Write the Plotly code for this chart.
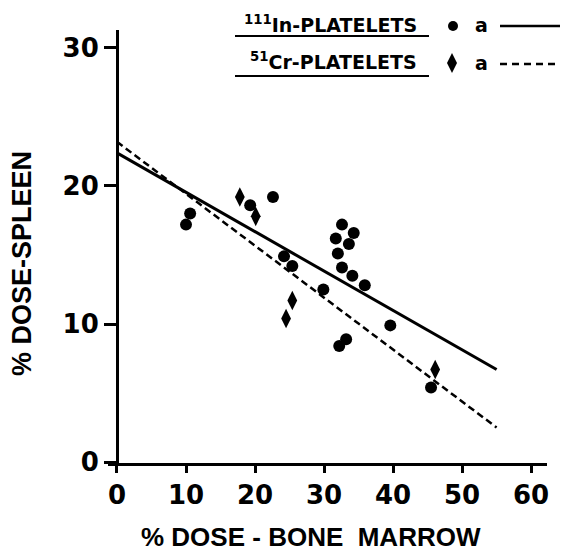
import plotly.graph_objects as go

# --- data ---
in_x = [10.0, 10.6, 19.3, 22.6, 24.2, 25.4, 32.6, 34.3, 31.7, 33.6, 32.0, 32.6, 34.1, 35.9, 29.9, 39.6, 33.2, 32.2, 45.5]
in_y = [17.2, 18.0, 18.6, 19.2, 14.9, 14.2, 17.2, 16.6, 16.2, 15.8, 15.1, 14.1, 13.5, 12.8, 12.5, 9.9, 8.9, 8.4, 5.4]
cr_x = [17.8, 20.1, 25.4, 24.5, 46.1]
cr_y = [19.2, 17.8, 11.7, 10.4, 6.7]
fit_x = [0, 55]
in_fit_y = [22.4, 6.7]
cr_fit_y = [23.2, 2.5]
x_ticks = [0, 10, 20, 30, 40, 50, 60]
y_ticks = [0, 10, 20, 30]

FONT = "DejaVu Sans"
TITLE_FONT = "Liberation Sans"
W, H = 564, 554
L, R, T, B = 108, 17, 30, 91
PW, PH = W - L - R, H - T - B


def px(x):
    return (x - L) / PW


def py(y):
    return (H - B - y) / PH


fig = go.Figure()
fig.add_trace(go.Scatter(x=fit_x, y=in_fit_y, mode="lines",
                         line=dict(color="black", width=3), showlegend=False))
fig.add_trace(go.Scatter(x=fit_x, y=cr_fit_y, mode="lines",
                         line=dict(color="black", width=2.5, dash="7px,4px"), showlegend=False))
fig.add_trace(go.Scatter(x=in_x, y=in_y, mode="markers",
                         marker=dict(symbol="circle", size=12, color="black"), showlegend=False))
fig.add_trace(go.Scatter(x=cr_x, y=cr_y, mode="markers",
                         marker=dict(symbol="diamond-tall", size=14, color="black"), showlegend=False))

shapes = []
# legend underlines
for yy in (36, 76):
    shapes.append(dict(type="line", xref="paper", yref="paper", x0=px(235), x1=px(429),
                       y0=py(yy), y1=py(yy), line=dict(color="black", width=2)))
# legend circle
shapes.append(dict(type="circle", xref="paper", yref="paper", xsizemode="pixel", ysizemode="pixel",
                   xanchor=px(453), yanchor=py(26), x0=-5, x1=5, y0=-5, y1=5,
                   fillcolor="black", line=dict(color="black", width=0)))
# legend diamond
shapes.append(dict(type="path", xref="paper", yref="paper", xsizemode="pixel", ysizemode="pixel",
                   xanchor=px(452), yanchor=py(63), path="M 0,10 L 5,0 L 0,-10 L -5,0 Z",
                   fillcolor="black", line=dict(color="black", width=0)))
# legend lines
shapes.append(dict(type="line", xref="paper", yref="paper", x0=px(500), x1=px(560),
                   y0=py(26), y1=py(26), line=dict(color="black", width=2.5)))
shapes.append(dict(type="line", xref="paper", yref="paper", x0=px(500), x1=px(560),
                   y0=py(64), y1=py(64), line=dict(color="black", width=2.5, dash="7px,5px")))

ann_font = dict(family=FONT, size=19, color="black", weight="bold")
annotations = [
    dict(text="<sup>111</sup>In-PLATELETS", xref="paper", yref="paper", x=px(419), y=py(24),
         xanchor="right", yanchor="middle", showarrow=False, font=ann_font),
    dict(text="<sup>51</sup>Cr-PLATELETS", xref="paper", yref="paper", x=px(419), y=py(61),
         xanchor="right", yanchor="middle", showarrow=False, font=ann_font),
    dict(text="a", xref="paper", yref="paper", x=px(481), y=py(25),
         xanchor="center", yanchor="middle", showarrow=False, font=ann_font),
    dict(text="a", xref="paper", yref="paper", x=px(481), y=py(63),
         xanchor="center", yanchor="middle", showarrow=False, font=ann_font),
    dict(text="% DOSE - BONE  MARROW", xref="paper", yref="paper", x=px(311), y=py(537),
         xanchor="center", yanchor="middle", showarrow=False,
         font=dict(family=TITLE_FONT, size=26, color="black", weight="bold")),
    dict(text="% DOSE-SPLEEN", xref="paper", yref="paper", x=px(22), y=py(264),
         xanchor="center", yanchor="middle", showarrow=False, textangle=-90,
         font=dict(family=TITLE_FONT, size=27, color="black", weight="bold")),
]

tick_font = dict(family=FONT, size=26, color="black", weight="bold")
fig.update_layout(
    width=W, height=H,
    margin=dict(l=L, r=R, t=T, b=B),
    paper_bgcolor="white", plot_bgcolor="white",
    shapes=shapes, annotations=annotations,
    xaxis=dict(range=[-1.3, 62.3], tickvals=x_ticks, ticktext=[str(v) for v in x_ticks],
               showline=True, linecolor="black", linewidth=3,
               ticks="outside", ticklen=7, tickwidth=3, tickcolor="black",
               showgrid=False, zeroline=False, tickfont=tick_font),
    yaxis=dict(range=[-0.07, 31.3], tickvals=y_ticks, ticktext=[str(v) for v in y_ticks],
               anchor="free", position=(117 - L) / PW,
               showline=True, linecolor="black", linewidth=3,
               ticks="outside", ticklen=12, tickwidth=3, tickcolor="black",
               showgrid=False, zeroline=False, tickfont=tick_font),
)

fig.write_html("out.html", config={"displayModeBar": False},
               post_script="document.body.style.margin='0';document.body.style.overflow='hidden';")
